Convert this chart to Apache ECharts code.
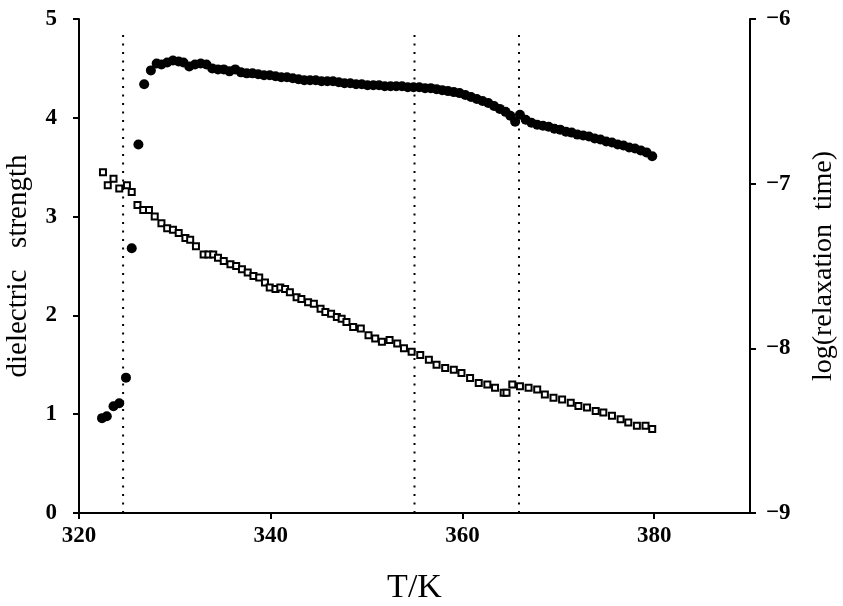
<!DOCTYPE html>
<html>
<head>
<meta charset="utf-8">
<script src="https://cdn.jsdelivr.net/npm/echarts@6/dist/echarts.min.js"></script>
<style>
  html, body { margin: 0; padding: 0; background: #fff; }
  #chart { width: 843px; height: 606px; }
</style>
</head>
<body>
<div id="chart"></div>
<script>
// filled circles: dielectric strength (left axis)
const circleTemp = [
  322.4, 322.9, 323.6, 324.2, 324.9, 325.5, 326.2, 326.8, 327.5, 328.1,
  328.6, 329.2, 329.8, 330.4, 330.9, 331.5, 332.1, 332.7, 333.3, 333.9,
  334.5, 335.1, 335.7, 336.3, 336.9, 337.5, 338.1, 338.7, 339.3, 339.9,
  340.5, 341.1, 341.7, 342.3, 342.9, 343.5, 344.1, 344.7, 345.3, 345.9,
  346.5, 347.1, 347.7, 348.3, 348.9, 349.5, 350.1, 350.7, 351.3, 351.9,
  352.5, 353.1, 353.7, 354.3, 354.9, 355.5, 356.1, 356.7, 357.3, 357.9,
  358.5, 359.1, 359.7, 360.3, 360.9, 361.5, 362.1, 362.7, 363.3, 363.9,
  364.5, 365.0, 365.5, 366.0, 366.6, 367.2, 367.8, 368.4, 369.0, 369.6,
  370.2, 370.8, 371.4, 372.0, 372.6, 373.2, 373.8, 374.4, 375.0, 375.6,
  376.2, 376.8, 377.4, 378.0, 378.6, 379.2, 379.8
];
const strength = [
  0.96, 0.98, 1.08, 1.11, 1.37, 2.68, 3.73, 4.34, 4.48, 4.55,
  4.54, 4.56, 4.58, 4.57, 4.56, 4.52, 4.54, 4.55, 4.54, 4.50,
  4.49, 4.49, 4.47, 4.49, 4.46, 4.45, 4.45, 4.44, 4.43, 4.43,
  4.42, 4.41, 4.41, 4.40, 4.39, 4.38, 4.38, 4.38, 4.37, 4.37,
  4.37, 4.36, 4.35, 4.35, 4.34, 4.34, 4.33, 4.33, 4.33, 4.32,
  4.32, 4.32, 4.32, 4.31, 4.31, 4.31, 4.30, 4.30, 4.29, 4.28,
  4.27, 4.26, 4.25, 4.23, 4.21, 4.19, 4.17, 4.15, 4.12, 4.09,
  4.06, 4.02, 3.96, 4.03, 3.98, 3.95, 3.93, 3.92, 3.91, 3.89,
  3.88, 3.86, 3.85, 3.83, 3.82, 3.81, 3.79, 3.78, 3.76, 3.75,
  3.73, 3.72, 3.70, 3.69, 3.67, 3.65, 3.61
];

// open squares: log(relaxation time) (right axis)
const squareTemp = [
  322.5, 323.0, 323.6, 324.2, 325.0, 325.5, 326.1, 326.7, 327.3, 327.9,
  328.6, 329.2, 329.8, 330.4, 331.1, 331.6, 332.2, 333.0, 333.5, 334.0,
  334.5, 335.1, 335.8, 336.4, 337.0, 337.6, 338.2, 338.8, 339.4, 339.9,
  340.5, 341.0, 341.5, 342.0, 342.7, 343.2, 343.9, 344.5, 345.2, 345.7,
  346.3, 346.9, 347.4, 347.9, 348.6, 349.4, 350.2, 350.9, 351.6, 352.4,
  353.2, 353.9, 354.7, 355.6, 356.5, 357.3, 358.2, 359.1, 359.9, 360.8,
  361.7, 362.6, 363.4, 364.3, 364.6, 365.2, 366.0, 366.9, 367.8, 368.6,
  369.5, 370.4, 371.3, 372.1, 373.0, 373.9, 374.7, 375.6, 376.5, 377.3,
  378.2, 379.1, 379.8
];
const logTau = [
  -6.93, -7.01, -6.97, -7.03, -7.01, -7.05, -7.13, -7.16, -7.16, -7.20,
  -7.24, -7.27, -7.28, -7.30, -7.33, -7.34, -7.38, -7.43, -7.43, -7.43,
  -7.45, -7.47, -7.49, -7.50, -7.52, -7.54, -7.56, -7.57, -7.60, -7.63,
  -7.64, -7.63, -7.64, -7.66, -7.69, -7.70, -7.72, -7.73, -7.76, -7.78,
  -7.79, -7.81, -7.82, -7.84, -7.87, -7.88, -7.92, -7.94, -7.96, -7.95,
  -7.97, -8.00, -8.02, -8.04, -8.07, -8.10, -8.12, -8.13, -8.15, -8.18,
  -8.21, -8.22, -8.24, -8.27, -8.27, -8.22, -8.23, -8.24, -8.25, -8.28,
  -8.30, -8.31, -8.33, -8.35, -8.36, -8.38, -8.39, -8.41, -8.43, -8.45,
  -8.47, -8.47, -8.49
];

// vertical dotted lines (transition temperatures)
const transitionTemps = [324.6, 355.0, 365.9];
const transitionTop = 4.86;

const chart = echarts.init(document.getElementById('chart'));

const serif = 'Liberation Serif';
const black = '#000';

const tickLabel = {
  color: black,
  fontFamily: serif,
  fontWeight: 'bold',
  fontSize: 23
};

const dottedSeries = transitionTemps.map(t => ({
  type: 'line',
  yAxisIndex: 0,
  data: [[t, 0], [t, transitionTop]],
  symbol: 'none',
  silent: true,
  lineStyle: { color: black, width: 2, type: [2, 6.5] },
  z: 1
}));

const option = {
  backgroundColor: '#fff',
  animation: false,
  grid: { left: 79, right: 93, top: 19, bottom: 93, outerBoundsMode: 'none' },
  xAxis: [
    {
      type: 'value',
      min: 320,
      max: 390,
      interval: 20,
      name: 'T/K',
      nameLocation: 'middle',
      nameGap: 58,
      nameTextStyle: { color: black, fontFamily: serif, fontSize: 34 },
      axisLine: { onZero: false, lineStyle: { color: black, width: 2 } },
      axisTick: { inside: false, length: 6, lineStyle: { color: black, width: 2 } },
      axisLabel: Object.assign({ margin: 12, showMaxLabel: false }, tickLabel),
      splitLine: { show: false }
    },
    {
      type: 'value',
      position: 'top',
      min: 320,
      max: 390,
      axisLine: { show: true, lineStyle: { color: black, width: 2 } },
      axisTick: { show: false },
      axisLabel: { show: false },
      splitLine: { show: false }
    }
  ],
  yAxis: [
    {
      type: 'value',
      min: 0,
      max: 5,
      interval: 1,
      name: 'dielectric   strength',
      nameLocation: 'middle',
      nameGap: 46,
      nameTextStyle: { color: black, fontFamily: serif, fontSize: 29 },
      axisLine: { show: true, onZero: false, lineStyle: { color: black, width: 2 } },
      axisTick: { show: true, length: 6, lineStyle: { color: black, width: 2 } },
      axisLabel: Object.assign({ margin: 22 }, tickLabel),
      splitLine: { show: false }
    },
    {
      type: 'value',
      position: 'right',
      min: -9,
      max: -6,
      interval: 1,
      name: 'log(relaxation  time)',
      nameLocation: 'middle',
      nameGap: 60,
      nameRotate: 90,
      nameTextStyle: { color: black, fontFamily: serif, fontSize: 28 },
      axisLine: { show: true, onZero: false, lineStyle: { color: black, width: 2 } },
      axisTick: { show: true, length: 6, lineStyle: { color: black, width: 2 } },
      axisLabel: Object.assign({
        margin: 16,
        formatter: v => (v < 0 ? '\u2212' + Math.abs(v) : String(v))
      }, tickLabel),
      splitLine: { show: false }
    }
  ],
  series: dottedSeries.concat([
    {
      name: 'dielectric strength',
      type: 'scatter',
      yAxisIndex: 0,
      data: circleTemp.map((t, i) => [t, strength[i]]),
      symbol: 'circle',
      symbolSize: 10,
      itemStyle: { color: black, opacity: 1 },
      z: 3
    },
    {
      name: 'log(relaxation time)',
      type: 'scatter',
      yAxisIndex: 1,
      data: squareTemp.map((t, i) => [t, logTau[i]]),
      symbol: 'rect',
      symbolSize: 6,
      itemStyle: { color: '#fff', borderColor: black, borderWidth: 2, opacity: 1 },
      z: 3
    }
  ])
};

chart.setOption(option);
</script>
</body>
</html>
